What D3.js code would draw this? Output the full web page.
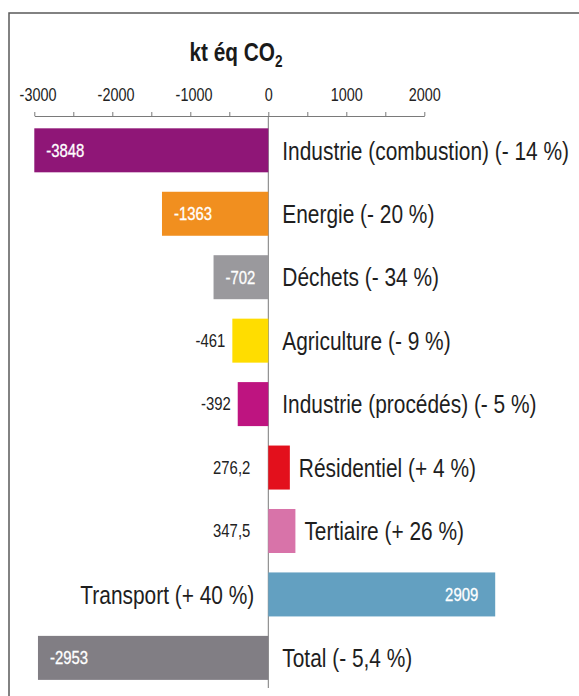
<!DOCTYPE html>
<html>
<head>
<meta charset="utf-8">
<script src="https://cdn.jsdelivr.net/npm/d3@7"></script>
<style>
  body { margin: 0; background: #fff; }
  svg { display: block; font-family: "Liberation Sans", Arial, sans-serif; }
  .axis path, .axis line { stroke: #7a7a7a; }
  .axis text { font-size: 18px; fill: #222; font-family: "Liberation Sans", Arial, sans-serif; }
</style>
</head>
<body>
<svg id="bar-view" width="579" height="696"></svg>
<script>
const categories = ["Industrie (combustion)", "Energie", "Déchets", "Agriculture",
  "Industrie (procédés)", "Résidentiel", "Tertiaire", "Transport", "Total"];
const changes = ["- 14 %", "- 20 %", "- 34 %", "- 9 %", "- 5 %", "+ 4 %", "+ 26 %", "+ 40 %", "- 5,4 %"];
const values = [-3848, -1363, -702, -461, -392, 276.2, 347.5, 2909, -2953];
const colors = ["#8f1677", "#f18f1f", "#9a999d", "#ffdd00", "#be1480", "#e3101c", "#d873a9", "#63a0c1", "#817e84"];
const tickValues = [-3000, -2500, -2000, -1500, -1000, -500, 0, 500, 1000, 1500, 2000];
const labelledTicks = [-3000, -2000, -1000, 0, 1000, 2000];

// the source uses a condensed face; squeeze a normal one horizontally
const narrow = 0.82;

class BarView {
  constructor(id) {
    this.svg = d3.select("#" + id);
    this.width = +this.svg.attr("width");
    this.height = +this.svg.attr("height");
    this.axisY = 116;

    // bars below -3000 are cut at the axis start
    this.x = d3.scaleLinear().domain([-3000, 3000]).range([34.3, 502.3]).clamp(true);
    this.xAxis = d3.scaleLinear().domain([-3000, 2000]).range([this.x(-3000), this.x(2000)]);
    this.y = d3.scaleBand().domain(categories).range([118.8, 689.4])
      .paddingInner(0.3065).paddingOuter(0.15);

    // frame: left and top edge only
    this.svg.append("path")
      .attr("d", "M9," + this.height + "V13H" + this.width)
      .attr("fill", "none")
      .attr("stroke", "#5a5a5a")
      .attr("stroke-width", 1.5);

    const title = this.svg.append("text")
      .attr("transform", "translate(236,61) scale(0.8,1)")
      .attr("text-anchor", "middle")
      .style("font-size", "26px")
      .style("font-weight", "bold")
      .attr("fill", "#1a1a1a")
      .text("kt éq CO");
    title.append("tspan")
      .attr("dy", 6)
      .style("font-size", "17px")
      .text("2");
  }

  loadData() {
    const x = this.x, y = this.y;
    const data = categories.map(function(c, i) {
      return {key: c, change: changes[i], value: values[i], color: colors[i]};
    });

    this.svg.append("g")
      .attr("class", "axis")
      .attr("transform", "translate(0," + this.axisY + ")")
      .call(d3.axisTop(this.xAxis)
        .tickValues(tickValues)
        .tickSize(4)
        .tickSizeOuter(0)
        .tickPadding(11)
        .tickFormat(function(d) { return labelledTicks.indexOf(d) >= 0 ? d : ""; }))
      .call(function(g) {
        g.selectAll("text")
          .attr("dx", function(d) { return d < 0 ? 4 : 0; })
          .attr("transform", "scale(0.8,1)");
      });

    // zero line
    this.svg.append("line")
      .attr("x1", x(0)).attr("x2", x(0))
      .attr("y1", this.axisY).attr("y2", 688)
      .attr("stroke", "#7a7a7a");

    const bar = this.svg.selectAll(".bar")
        .data(data)
      .enter().append("g")
        .attr("class", "bar");

    bar.append("rect")
      .attr("x", function(d) { return Math.min(x(0), x(d.value)); })
      .attr("y", function(d) { return y(d.key); })
      .attr("width", function(d) { return Math.abs(x(d.value) - x(0)); })
      .attr("height", y.bandwidth())
      .attr("fill", function(d) { return d.color; });

    const fmt = function(v) { return String(v).replace(".", ","); };
    const inside = function(d) { return Math.abs(x(d.value) - x(0)) > 48; };
    const mid = function(d) { return y(d.key) + y.bandwidth() / 2; };

    bar.append("text")
      .attr("class", "value")
      .attr("transform", function(d) {
        let tx;
        if (inside(d)) tx = d.value < 0 ? x(d.value) + 12 : x(d.value) - 17;
        else tx = d.value < 0 ? x(d.value) - 7 : x(0) - 18;
        return "translate(" + tx + "," + mid(d) + ") scale(0.85,1)";
      })
      .attr("dy", "0.36em")
      .attr("text-anchor", function(d) { return inside(d) && d.value < 0 ? "start" : "end"; })
      .style("font-size", "17.5px")
      .attr("fill", function(d) { return inside(d) ? "#fff" : "#222"; })
      .attr("stroke", function(d) { return inside(d) ? "#fff" : "none"; })
      .attr("stroke-width", 0.3)
      .text(function(d) { return fmt(d.value); });

    bar.append("text")
      .attr("class", "label")
      .attr("transform", function(d) {
        let tx;
        if (d.value >= 0 && inside(d)) tx = x(0) - 14;
        else tx = d.value >= 0 ? x(d.value) + 9 : x(0) + 14;
        return "translate(" + tx + "," + mid(d) + ") scale(" + narrow + ",1)";
      })
      .attr("dy", "0.36em")
      .attr("text-anchor", function(d) { return d.value >= 0 && inside(d) ? "end" : "start"; })
      .style("font-size", "25.5px")
      .attr("fill", "#1e1e1e")
      .text(function(d) { return d.key + " (" + d.change + ")"; });
  }
}

const barView = new BarView("bar-view");
barView.loadData();
</script>
</body>
</html>
